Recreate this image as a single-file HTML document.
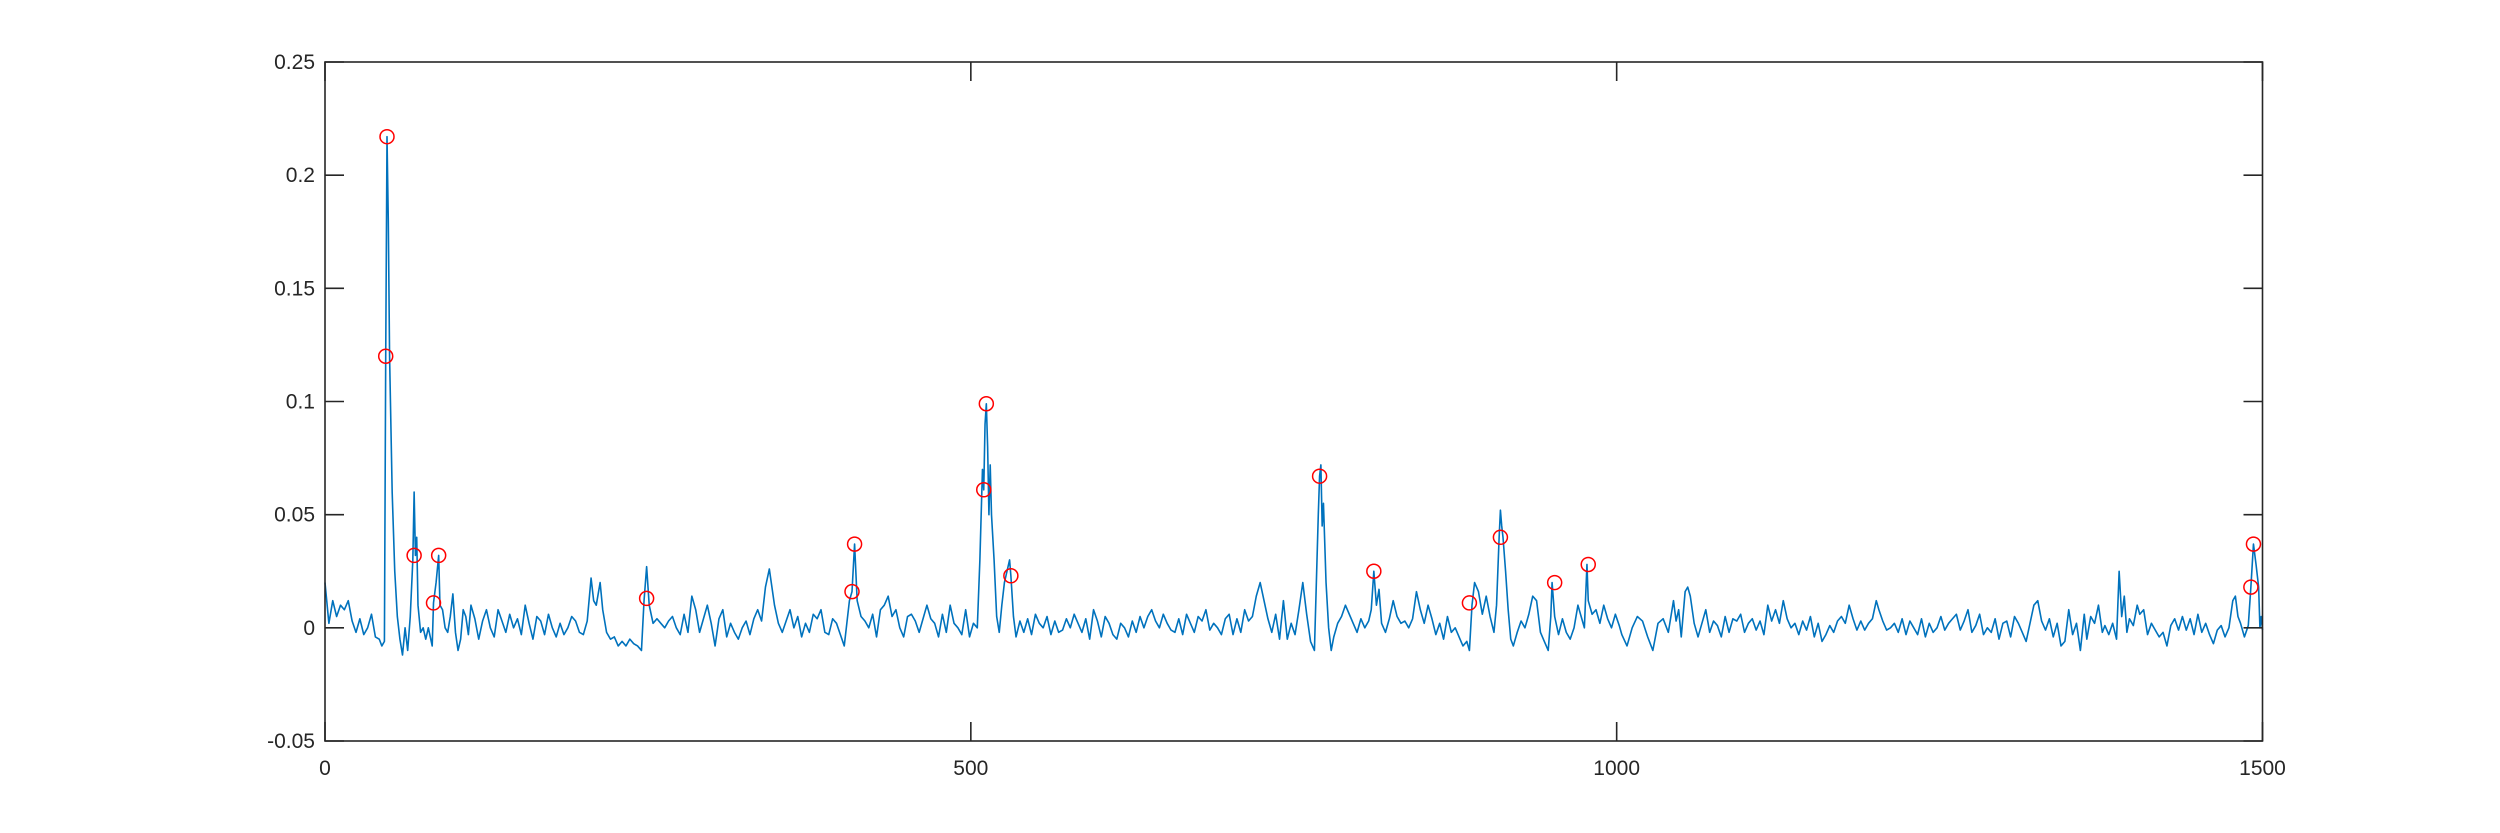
<!DOCTYPE html>
<html><head><meta charset="utf-8"><style>
html,body{margin:0;padding:0;background:#fff;}
svg{display:block;font-family:"Liberation Sans",Arial,sans-serif;}
</style></head><body>
<svg id="chart" width="2500" height="833" viewBox="0 0 2500 833" xmlns="http://www.w3.org/2000/svg">
<rect x="0" y="0" width="2500" height="833" fill="#ffffff"/>
<g id="plot"></g>
<g id="axes"></g>
</svg>
<script>
const xTicks=[0,500,1000,1500];
const xTickLabels=["0","500","1000","1500"];
const yTicks=[-0.05,0,0.05,0.1,0.15,0.2,0.25];
const yTickLabels=["-0.05","0","0.05","0.1","0.15","0.2","0.25"];
const markerX=[48,47,69,84,88,249,410,408,512,510,531,770,812,886,910,952,978,1493,1491];
const markerY=[0.217,0.120,0.032,0.011,0.032,0.013,0.037,0.016,0.099,0.061,0.023,0.067,0.025,0.011,0.040,0.020,0.028,0.037,0.018];
// signal samples [index, value*1000]
const signal=[[0,20],[3,2],[6,12],[9,5],[12,10],[15,8],[18,12],[21,3],[24,-2],[27,4],[30,-3],[33,0],[36,6],[39,-4],[42,-5],[44,-8],[46,-6],[47,120],[48,217],[49,180],[50,120],[52,60],[54,25],[56,5],[58,-5],[60,-12],[62,0],[64,-10],[66,5],[68,30],[69,60],[70,32],[71,40],[72,10],[74,-2],[76,0],[78,-5],[80,0],[83,-8],[84,11],[86,20],[88,32],[89,10],[91,8],[93,0],[95,-2],[97,5],[99,15],[101,-2],[103,-10],[105,-5],[107,8],[109,5],[111,-3],[113,10],[116,4],[119,-5],[122,3],[125,8],[128,0],[131,-4],[134,8],[137,3],[140,-2],[143,6],[146,0],[149,4],[152,-3],[155,10],[158,2],[161,-5],[164,5],[167,3],[170,-3],[173,6],[176,0],[179,-4],[182,2],[185,-3],[188,0],[191,5],[194,3],[197,-2],[200,-3],[203,3],[206,22],[208,12],[210,10],[213,20],[215,8],[218,-2],[221,-5],[224,-4],[227,-8],[230,-6],[233,-8],[236,-5],[239,-7],[242,-8],[245,-10],[247,12],[249,27],[251,10],[254,2],[257,4],[260,2],[263,0],[266,3],[269,5],[272,0],[275,-3],[278,6],[281,-2],[284,14],[287,8],[290,-2],[293,4],[296,10],[299,2],[302,-8],[305,4],[308,8],[311,-4],[314,2],[317,-2],[320,-5],[323,0],[326,3],[329,-3],[332,4],[335,8],[338,3],[341,18],[344,26],[346,18],[348,10],[351,2],[354,-2],[357,3],[360,8],[363,0],[366,5],[369,-4],[372,2],[375,-2],[378,6],[381,4],[384,8],[387,-2],[390,-3],[393,4],[396,2],[399,-3],[402,-8],[404,2],[406,12],[408,16],[410,37],[412,12],[415,5],[418,3],[421,0],[424,6],[427,-4],[430,8],[433,10],[436,14],[439,5],[442,8],[445,0],[448,-4],[451,5],[454,6],[457,3],[460,-2],[463,4],[466,10],[469,4],[472,2],[475,-4],[478,6],[481,-2],[484,10],[487,2],[490,0],[493,-3],[496,8],[499,-4],[502,2],[505,0],[507,30],[509,70],[510,61],[511,90],[512,99],[513,80],[514,50],[515,72],[516,50],[518,30],[520,5],[522,-2],[524,10],[526,20],[528,25],[530,30],[531,23],[533,5],[535,-4],[538,3],[541,-2],[544,4],[547,-3],[550,6],[553,2],[556,0],[559,5],[562,-3],[565,3],[568,-2],[571,-1],[574,4],[577,0],[580,6],[583,2],[586,-2],[589,4],[592,-5],[595,8],[598,3],[601,-4],[604,5],[607,2],[610,-3],[613,-5],[616,2],[619,0],[622,-4],[625,3],[628,-2],[631,5],[634,0],[637,5],[640,8],[643,3],[646,0],[649,6],[652,2],[655,-1],[658,-2],[661,4],[664,-3],[667,6],[670,2],[673,-2],[676,5],[679,3],[682,8],[685,-1],[688,2],[691,0],[694,-3],[697,4],[700,6],[703,-3],[706,4],[709,-2],[712,8],[715,3],[718,5],[721,14],[724,20],[727,12],[730,4],[733,-2],[736,6],[739,-5],[742,12],[745,-5],[748,2],[751,-3],[754,8],[757,20],[760,6],[763,-6],[766,-10],[768,30],[769,50],[770,67],[771,72],[772,45],[773,55],[775,20],[777,0],[779,-10],[781,-4],[784,2],[787,5],[790,10],[793,6],[796,2],[799,-2],[802,4],[805,0],[808,3],[810,8],[812,25],[814,10],[816,17],[818,2],[821,-2],[824,4],[827,12],[830,5],[833,2],[836,3],[839,0],[842,4],[845,16],[848,8],[851,2],[854,10],[857,4],[860,-3],[863,2],[866,-5],[869,5],[872,-2],[875,0],[878,-4],[881,-8],[884,-6],[886,-10],[888,10],[890,20],[893,16],[896,6],[899,14],[902,5],[905,-2],[907,10],[909,40],[910,52],[911,45],[912,40],[914,25],[916,8],[918,-5],[920,-8],[923,-2],[926,3],[929,0],[932,6],[935,14],[938,12],[941,-2],[944,-6],[947,-10],[949,5],[950,20],[952,5],[955,-3],[958,4],[961,-2],[964,-5],[967,0],[970,10],[973,4],[975,0],[977,28],[978,12],[981,6],[984,8],[987,2],[990,10],[993,4],[996,0],[999,6],[1002,1],[1004,-3],[1008,-8],[1012,0],[1016,5],[1020,3],[1024,-4],[1028,-10],[1032,2],[1036,4],[1040,-2],[1044,12],[1046,3],[1048,8],[1050,-4],[1053,16],[1055,18],[1057,14],[1060,2],[1063,-4],[1066,2],[1069,8],[1072,-2],[1075,3],[1078,1],[1081,-4],[1084,5],[1087,-2],[1090,4],[1093,3],[1096,6],[1099,-2],[1102,2],[1105,4],[1108,-1],[1111,3],[1114,-3],[1117,10],[1120,3],[1123,8],[1126,2],[1129,12],[1132,4],[1135,0],[1138,2],[1141,-3],[1144,3],[1147,-1],[1150,5],[1153,-4],[1156,2],[1159,-6],[1162,-3],[1165,1],[1168,-2],[1171,3],[1174,5],[1177,2],[1180,10],[1183,4],[1186,-1],[1189,3],[1192,-1],[1195,2],[1198,4],[1201,12],[1203,8],[1206,3],[1209,-1],[1212,0],[1215,2],[1218,-2],[1221,4],[1224,-3],[1227,3],[1230,0],[1233,-3],[1236,4],[1239,-4],[1242,2],[1245,-2],[1248,0],[1251,5],[1254,-1],[1257,2],[1260,4],[1263,6],[1266,-1],[1269,3],[1272,8],[1275,-2],[1278,1],[1281,6],[1284,-3],[1287,0],[1290,-2],[1293,4],[1296,-5],[1299,2],[1302,3],[1305,-4],[1308,5],[1311,2],[1314,-2],[1317,-6],[1320,2],[1323,10],[1326,12],[1329,3],[1332,-1],[1335,4],[1338,-4],[1341,2],[1344,-8],[1347,-6],[1350,8],[1353,-3],[1356,2],[1359,-10],[1362,6],[1364,-5],[1367,5],[1370,2],[1373,10],[1376,-2],[1378,1],[1381,-3],[1384,2],[1387,-5],[1389,25],[1391,5],[1393,14],[1395,-2],[1397,4],[1400,1],[1403,10],[1405,6],[1408,8],[1411,-3],[1414,2],[1417,-1],[1420,-4],[1423,-2],[1426,-8],[1429,1],[1432,4],[1435,-1],[1438,5],[1441,-1],[1444,4],[1447,-3],[1450,6],[1453,-2],[1456,2],[1459,-3],[1462,-7],[1465,-1],[1468,1],[1471,-4],[1474,0],[1477,12],[1479,14],[1481,5],[1483,2],[1486,-4],[1489,1],[1491,18],[1493,37],[1495,28],[1497,18],[1498,0],[1499,5],[1500,-1]];

const L=325,R=2262.5,T=62,B=741;
const xMin=0,xMax=1500,yMin=-0.05,yMax=0.25;
function sx(v){return L+(v-xMin)/(xMax-xMin)*(R-L);}
function sy(v){return B-(v-yMin)/(yMax-yMin)*(B-T);}
const NS="http://www.w3.org/2000/svg";
const plot=document.getElementById('plot');
const axes=document.getElementById('axes');
function mk(tag,attrs,parent){const e=document.createElementNS(NS,tag);for(const k in attrs)e.setAttribute(k,attrs[k]);parent.appendChild(e);return e;}

let d=signal.map((p,i)=>(i?'L':'M')+sx(p[0]).toFixed(2)+' '+sy(p[1]/1000).toFixed(2)).join(' ');
const line=mk('path',{d:d,fill:'none',stroke:'#0072BD','stroke-width':1.6,'stroke-linejoin':'round'},plot);



for(let i=0;i<markerX.length;i++){
  const c=mk('circle',{cx:sx(markerX[i]),cy:sy(markerY[i]),r:7,fill:'none',stroke:'#ff0000','stroke-width':1.5},plot);
  
  
}

const box=mk('rect',{x:L,y:T,width:R-L,height:B-T,fill:'none',stroke:'#262626','stroke-width':1.6},axes);



xTicks.forEach((v,i)=>{
  const x=sx(v);
  const t1=mk('line',{x1:x,y1:B,x2:x,y2:B-19,stroke:'#262626','stroke-width':1.6},axes);
  
  
  const t2=mk('line',{x1:x,y1:T,x2:x,y2:T+19,stroke:'#262626','stroke-width':1.6},axes);
  
  
  const tx=mk('text',{x:x,y:B+34,'text-anchor':'middle','font-size':21,fill:'#262626'},axes);
  tx.textContent=xTickLabels[i];
  
  
});
yTicks.forEach((v,i)=>{
  const y=sy(v);
  const t1=mk('line',{x1:L,y1:y,x2:L+19,y2:y,stroke:'#262626','stroke-width':1.6},axes);
  
  
  const t2=mk('line',{x1:R,y1:y,x2:R-19,y2:y,stroke:'#262626','stroke-width':1.6},axes);
  
  
  const tx=mk('text',{x:L-10,y:y+7,'text-anchor':'end','font-size':21,fill:'#262626'},axes);
  tx.textContent=yTickLabels[i];
  
  
});
</script>
</body></html>
